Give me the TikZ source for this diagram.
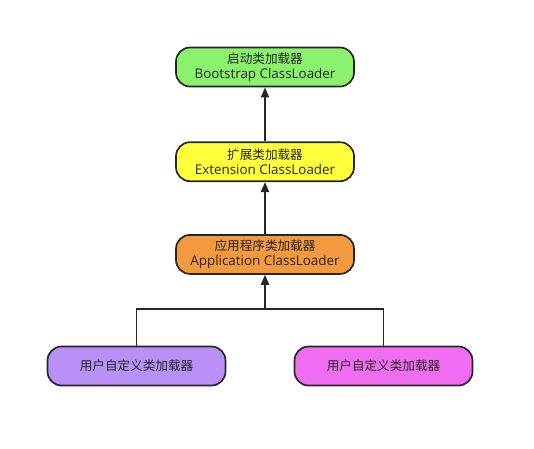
\documentclass[tikz,border=0pt]{standalone}
\usepackage{fontspec}
\setmainfont{Open Sans}
\newfontfamily\cjk{Noto Sans CJK SC}
\usetikzlibrary{arrows.meta,positioning}
\definecolor{clboot}{HTML}{8AF26C}
\definecolor{clext}{HTML}{FFFF3C}
\definecolor{clapp}{HTML}{F49A3E}
\definecolor{cluserl}{HTML}{B890F6}
\definecolor{cluserr}{HTML}{F06CF0}
\definecolor{cldark}{HTML}{262626}
\tikzset{
  loader/.style={draw=cldark,line width=1.7pt,rounded corners=14pt,align=center,
                 minimum width=178pt,minimum height=39pt,inner sep=2pt,
                 text=cldark,font=\fontsize{13.4}{15}\selectfont},
  ar/.style={-{Triangle[length=10pt,width=8pt]},line width=2pt,cldark},
  ln/.style={line width=1.8pt,cldark},
}
\newcommand\zh[1]{{\cjk\fontsize{12.6}{15}\selectfont #1}}
\begin{document}
\begin{tikzpicture}[x=1pt,y=-1pt]
    \useasboundingbox (0,0) rectangle (534,448);
    \node[loader,fill=clboot] (boot) at (265,67) {\zh{启动类加载器}\\Bootstrap ClassLoader};
    \node[loader,fill=clext,below=54pt of boot] (ext) {\zh{扩展类加载器}\\Extension ClassLoader};
    \node[loader,fill=clapp,below=52pt of ext] (app) {\zh{应用程序类加载器}\\Application ClassLoader};
    \node[loader,fill=cluserl] (userl) at (136.5,366) {\zh{用户自定义类加载器}};
    \node[loader,fill=cluserr] (userr) at (383.5,366) {\zh{用户自定义类加载器}};
    \coordinate (join) at (265,309);
    \draw[ln](userl.north)|-(join);\draw[ln](userr.north)|-(join);
    \draw[ar](join)--(app);
    \draw[ar](app)--(ext);\draw[ar](ext)--(boot);
  \end{tikzpicture}
\end{document}
